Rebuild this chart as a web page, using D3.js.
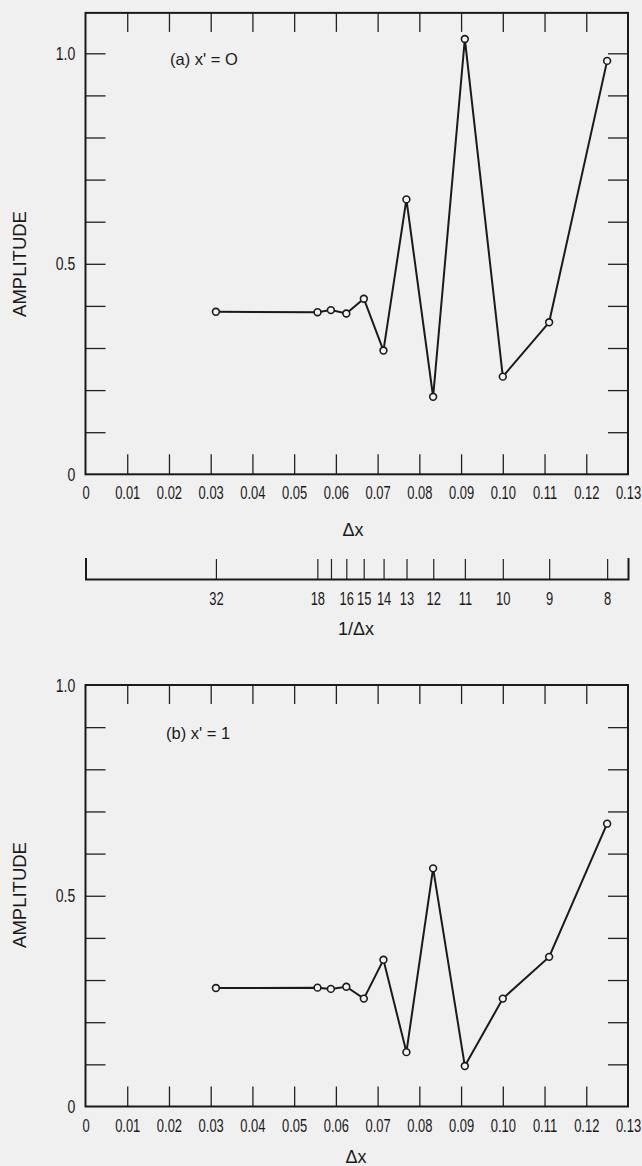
<!DOCTYPE html>
<html>
<head>
<meta charset="utf-8">
<script src="https://cdn.jsdelivr.net/npm/d3@7"></script>
<style>
  html, body { margin: 0; padding: 0; background: #f0f0f0; }
  svg { display: block; }
  .lbl { font-family: "Liberation Sans", Arial, sans-serif; fill: #1a1a1a; }
  .title { font-family: "Liberation Sans", "DejaVu Sans", sans-serif; fill: #1a1a1a; }
</style>
</head>
<body>
<script>
// Grid spacing Δx used for each run (same for both panels)
const deltaX = [0.03125, 0.0556, 0.0588, 0.0625, 0.0667, 0.0714, 0.0769, 0.0833, 0.0909, 0.1000, 0.1111, 0.1250];
// Amplitude at x' = 0
const amplitudeA = [0.386, 0.385, 0.390, 0.382, 0.417, 0.294, 0.653, 0.184, 1.034, 0.232, 0.361, 0.982];
// Amplitude at x' = 1
const amplitudeB = [0.281, 0.282, 0.279, 0.284, 0.256, 0.348, 0.129, 0.565, 0.096, 0.256, 0.355, 0.671];
// Δx tick values and labels
const xTicks = [0, 0.01, 0.02, 0.03, 0.04, 0.05, 0.06, 0.07, 0.08, 0.09, 0.10, 0.11, 0.12, 0.13];
// 1/Δx scale: grid counts (17 carries a tick but no label)
const reciprocalTicks = [32, 18, 17, 16, 15, 14, 13, 12, 11, 10, 9, 8];
const reciprocalLabels = ["32", "18", "", "16", "15", "14", "13", "12", "11", "10", "9", "8"];
// Amplitude ticks
const yMinorTicks = [0.1, 0.2, 0.3, 0.4, 0.5, 0.6, 0.7, 0.8, 0.9, 1.0];
const yLabelTicks = [0, 0.5, 1.0];

const W = 642, H = 1166;
const svg = d3.select("body").append("svg").attr("width", W).attr("height", H);

const x = d3.scaleLinear().domain([0, 0.13]).range([85.5, 628]);
const innerTicks = xTicks.filter(t => t > 0 && t < 0.13);

// tall, narrow lettering for numerals
function narrow(sel, size, sx) {
  sel.attr("class", "lbl").attr("font-size", size).attr("fill", "#1a1a1a")
    .attr("font-family", null)
    .attr("transform", `scale(${sx},1)`);
}

function panel(opts) {
  const { y, yTop, values, caption, captionPos, yLabelY } = opts;
  const g = svg.append("g");
  const x0 = x.range()[0], x1 = x.range()[1];
  const yb = y(0), yt = y(yTop);

  // bottom ticks pointing inward
  g.append("g").attr("transform", `translate(0,${yb})`)
    .call(d3.axisBottom(x).tickValues(innerTicks).tickSize(-20).tickSizeOuter(0).tickFormat(""))
    .call(s => s.select(".domain").remove())
    .call(s => s.selectAll("line").attr("stroke", "#222").attr("stroke-width", 1.3));
  // top ticks pointing inward
  g.append("g").attr("transform", `translate(0,${yt})`)
    .call(d3.axisTop(x).tickValues(innerTicks).tickSize(-19).tickSizeOuter(0).tickFormat(""))
    .call(s => s.select(".domain").remove())
    .call(s => s.selectAll("line").attr("stroke", "#222").attr("stroke-width", 1.3));
  // left and right ticks pointing inward
  const yt2 = yMinorTicks.filter(v => v < yTop - 0.001);
  g.append("g").attr("transform", `translate(${x0},0)`)
    .call(d3.axisLeft(y).tickValues(yt2).tickSize(-20).tickSizeOuter(0).tickFormat(""))
    .call(s => s.select(".domain").remove())
    .call(s => s.selectAll("line").attr("stroke", "#222").attr("stroke-width", 1.3));
  g.append("g").attr("transform", `translate(${x1},0)`)
    .call(d3.axisRight(y).tickValues(yt2).tickSize(-20).tickSizeOuter(0).tickFormat(""))
    .call(s => s.select(".domain").remove())
    .call(s => s.selectAll("line").attr("stroke", "#222").attr("stroke-width", 1.3));

  // frame
  g.append("rect").attr("x", x0).attr("y", yt).attr("width", x1 - x0).attr("height", yb - yt)
    .attr("fill", "none").attr("stroke", "#1a1a1a").attr("stroke-width", 2);

  // x tick labels
  g.append("g").attr("transform", `translate(0,${yb + 9})`)
    .call(d3.axisBottom(x).tickValues(xTicks).tickSize(0)
      .tickFormat(d => d === 0 ? "0" : d3.format(".2f")(d)))
    .call(s => s.select(".domain").remove())
    .call(s => s.selectAll("text").call(narrow, 18.5, 0.7).attr("dy", "0.71em"));

  // y tick labels
  g.append("g").attr("transform", `translate(${x0 - 8},0)`)
    .call(d3.axisLeft(y).tickValues(yLabelTicks).tickSize(0)
      .tickFormat(d => d === 0 ? "0" : d3.format(".1f")(d)))
    .call(s => s.select(".domain").remove())
    .call(s => s.selectAll("text").call(narrow, 19, 0.74));

  // axis title
  g.append("text").attr("class", "title").attr("font-size", 18.5)
    .attr("transform", `translate(26,${yLabelY}) rotate(-90)`)
    .attr("text-anchor", "middle").text("AMPLITUDE");

  // panel caption
  g.append("text").attr("class", "lbl").attr("font-size", 16.5)
    .attr("x", captionPos[0]).attr("y", captionPos[1]).text(caption);

  // data
  const pts = deltaX.map((d, i) => [d, values[i]]);
  const line = d3.line().x(d => x(d[0])).y(d => y(d[1]));
  g.append("path").attr("d", line(pts)).attr("fill", "none")
    .attr("stroke", "#1a1a1a").attr("stroke-width", 2).attr("stroke-linejoin", "miter");
  g.selectAll("circle.pt").data(pts).join("circle")
    .attr("cx", d => x(d[0])).attr("cy", d => y(d[1])).attr("r", 3.4)
    .attr("fill", "#f4f4f4").attr("stroke", "#1a1a1a").attr("stroke-width", 1.6);
  return g;
}

// Panel (a)
const yA = d3.scaleLinear().domain([0, 1]).range([474.3, 53.3]);
panel({ y: yA, yTop: 1.096, values: amplitudeA, caption: "(a)  x' = O",
  captionPos: [170, 65], yLabelY: 264 });

// Δx title under panel (a)
svg.append("text").attr("class", "title").attr("font-size", 18).attr("x", 353).attr("y", 536)
  .attr("text-anchor", "middle").text("Δx");

// 1/Δx reciprocal scale
const recY = 579;
svg.append("g").attr("transform", `translate(0,${recY})`)
  .call(d3.axisTop(x).tickValues(reciprocalTicks.map(n => 1 / n)).tickSize(20).tickSizeOuter(21).tickFormat(""))
  .call(s => s.select(".domain").attr("stroke", "#1a1a1a").attr("stroke-width", 2))
  .call(s => s.selectAll(".tick line").attr("stroke", "#222").attr("stroke-width", 1.2));
svg.append("g").attr("transform", `translate(0,${recY + 10})`)
  .call(d3.axisBottom(x).tickValues(reciprocalTicks.map(n => 1 / n)).tickSize(0)
    .tickFormat((d, i) => reciprocalLabels[i]))
  .call(s => s.select(".domain").remove())
  .call(s => s.selectAll("text").call(narrow, 18.5, 0.7).attr("dy", "0.71em"));
svg.append("text").attr("class", "title").attr("font-size", 18).attr("x", 356).attr("y", 635)
  .attr("text-anchor", "middle").text("1/Δx");

// Panel (b)
const yB = d3.scaleLinear().domain([0, 1]).range([1106.5, 685]);
panel({ y: yB, yTop: 1.0, values: amplitudeB, caption: "(b)  x' = 1",
  captionPos: [166, 739], yLabelY: 895 });

svg.append("text").attr("class", "title").attr("font-size", 18).attr("x", 356).attr("y", 1163)
  .attr("text-anchor", "middle").text("Δx");
</script>
</body>
</html>
